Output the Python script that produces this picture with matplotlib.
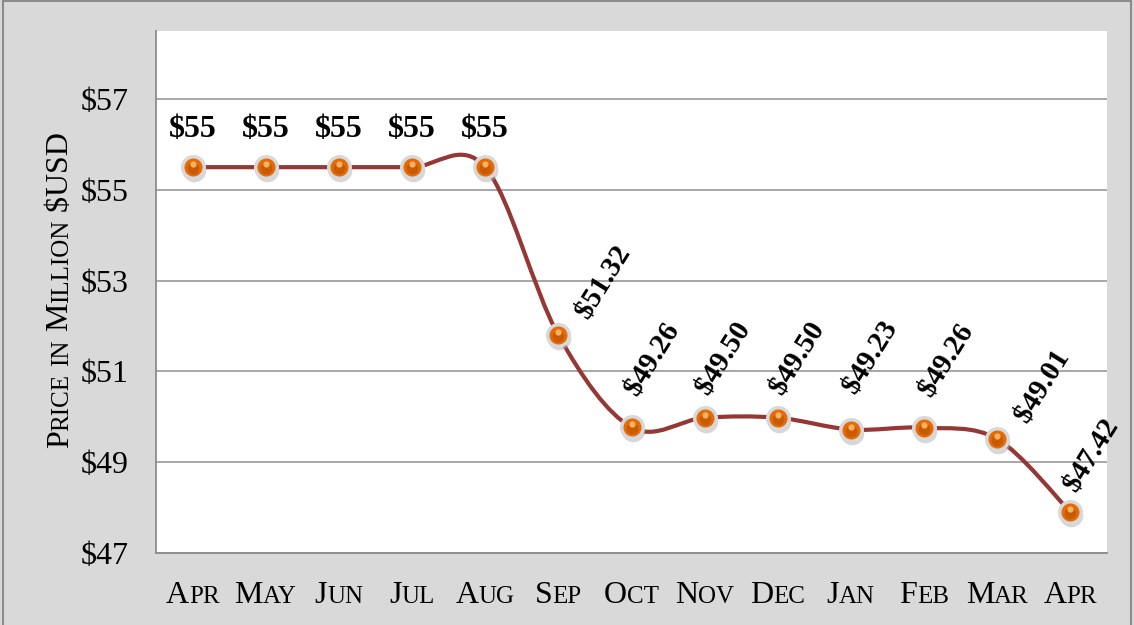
import matplotlib as mpl
import matplotlib.pyplot as plt
from matplotlib.path import Path
from matplotlib.patches import PathPatch, Rectangle
from matplotlib.ticker import FuncFormatter

mpl.rcParams.update({"font.family": "Liberation Serif"})

months = ["Apr", "May", "Jun", "Jul", "Aug", "Sep", "Oct", "Nov", "Dec", "Jan", "Feb", "Mar", "Apr"]
# plotted heights (as drawn on the value axis)
prices = [55.5, 55.5, 55.5, 55.5, 55.5, 51.8, 49.77, 49.98, 49.98, 49.72, 49.76, 49.51, 47.9]
# data label texts
labels = ["$55", "$55", "$55", "$55", "$55", "$51.32", "$49.26", "$49.50", "$49.50",
          "$49.23", "$49.26", "$49.01", "$47.42"]
y_ticks = [47, 49, 51, 53, 55, 57]

# label offsets in pixels (dx, dy) from each point
lab_off = [(0, 38)] * 5 + [(45, 53), (21, 68), (19, 60), (19, 60), (19, 72), (22, 68), (45, 53), (21, 57)]

BG = "#d9d9d9"
LINE = "#953735"
GRID = "#a0a0a0"
BIG, SMALL = 23, 18

fig = plt.figure(figsize=(11.34, 6.25), dpi=100, facecolor=BG)
fig.patches.append(Rectangle((3 / 1134, -0.05), 1128 / 1134, 1.05 - 1 / 625, transform=fig.transFigure,
                             fill=False, ec="#8c8c8c", lw=1.5))
ax = fig.add_axes([156 / 1134, 72 / 625, 951 / 1134, 522 / 625])
ax.set_facecolor("white")
ax.set_xlim(-0.5, len(months) - 0.5)
ax.set_ylim(47, 58.5)
ax.set_yticks(y_ticks)
ax.yaxis.set_major_formatter(FuncFormatter(lambda v, p: f"${v:.0f}"))
ax.tick_params(axis="y", length=0, labelsize=BIG, pad=20)
ax.set_xticks([])
ax.grid(axis="y", color=GRID, lw=1.3)
ax.set_axisbelow(True)
for s in ["top", "right"]:
    ax.spines[s].set_visible(False)
for s in ["left", "bottom"]:
    ax.spines[s].set_color("#8c8c8c")
    ax.spines[s].set_linewidth(1.3)

# smoothed line (Catmull-Rom -> cubic Bezier, like Excel's smoothing)
xs = list(range(len(prices)))
pts = list(zip(xs, prices))
verts = [pts[0]]
codes = [Path.MOVETO]
for i in range(len(pts) - 1):
    p0 = pts[i - 1] if i > 0 else pts[i]
    p1, p2 = pts[i], pts[i + 1]
    p3 = pts[i + 2] if i + 2 < len(pts) else pts[i + 1]
    c1 = (p1[0] + (p2[0] - p0[0]) / 6, p1[1] + (p2[1] - p0[1]) / 6)
    c2 = (p2[0] - (p3[0] - p1[0]) / 6, p2[1] - (p3[1] - p1[1]) / 6)
    verts += [c1, c2, p2]
    codes += [Path.CURVE4] * 3
ax.add_patch(PathPatch(Path(verts, codes), fill=False, ec=LINE, lw=3.0, zorder=3, capstyle="round"))

# orange "sphere" markers
shift = lambda dx, dy: ax.transData + mpl.transforms.ScaledTranslation(dx / 100, dy / 100, fig.dpi_scale_trans)
ax.plot(xs, prices, ls="none", marker="o", ms=17, mfc="#b0b0b0", mec="none", alpha=0.5, zorder=4,
        transform=shift(1, -3))
ax.plot(xs, prices, ls="none", marker="o", ms=15.5, mfc="#e36c09", mec="#d8d8d8", mew=2.5, zorder=5)
ax.plot(xs, prices, ls="none", marker="o", ms=8.5, mfc="#c85a00", mec="none", zorder=6, transform=shift(0, -1))
ax.plot(xs, prices, ls="none", marker="o", ms=4.5, mfc="#f9b060", mec="none", zorder=7, transform=shift(0, 3))

for x, y, t, (dx, dy) in zip(xs, prices, labels, lab_off):
    rot = 0 if len(t) <= 3 else 58
    ax.annotate(t, (x, y), xytext=(dx, dy), textcoords="offset pixels", ha="center", va="center",
                rotation=rot, fontsize=23 if rot == 0 else 21, fontweight="bold", color="black",
                zorder=8, parse_math=False)


def small_caps(text, x, y, rotation=0):
    """draw text in small caps; (x, y) = centre of baseline in pixels"""
    pieces = []
    for ch in text:
        sz = SMALL if ch.islower() else BIG
        if pieces and pieces[-1][1] == sz:
            pieces[-1][0] += ch.upper()
        else:
            pieces.append([ch.upper(), sz])
    r = fig.canvas.get_renderer()
    widths = []
    for s, sz in pieces:
        t = fig.text(0, 0, s, fontsize=sz, parse_math=False)
        widths.append(t.get_window_extent(r).width)
        t.remove()
    pos = -sum(widths) / 2
    for (s, sz), w in zip(pieces, widths):
        if rotation:
            px, py = x, y + pos
        else:
            px, py = x + pos, y
        fig.text(px / 1134, py / 625, s, fontsize=sz, ha="left", va="baseline", rotation=rotation,
                 rotation_mode="anchor", parse_math=False)
        pos += w


for i, m in enumerate(months):
    cx = ax.transData.transform((i, 47))[0]
    small_caps(m, cx, 625 - 603)
small_caps("Price in Million $USD", 68, 625 - 290, rotation=90)

fig.savefig("out.png", dpi=100, facecolor=BG)
